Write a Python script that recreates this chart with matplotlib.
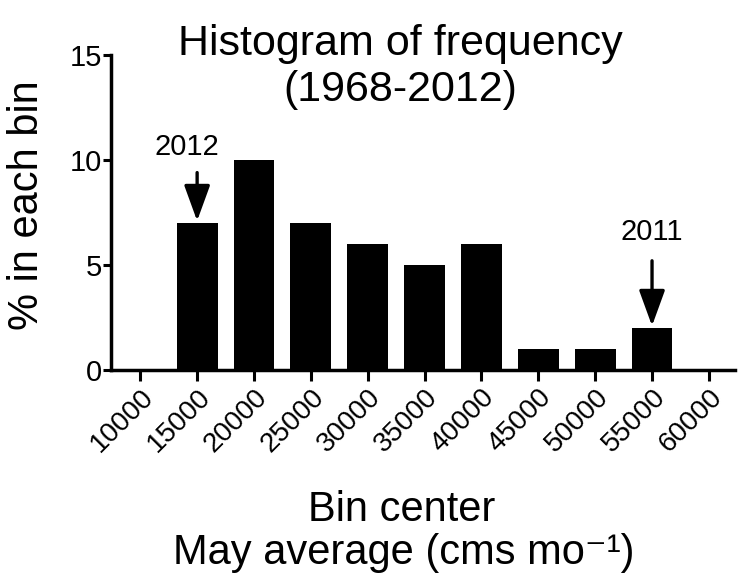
import matplotlib.pyplot as plt

plt.rcParams['font.family'] = ['Liberation Sans', 'DejaVu Sans']

# Histogram values
bin_centers = [15000, 20000, 25000, 30000, 35000, 40000, 45000, 50000, 55000]
percent = [7, 10, 7, 6, 5, 6, 1, 1, 2]
x_ticks = [10000, 15000, 20000, 25000, 30000, 35000, 40000, 45000, 50000, 55000, 60000]
y_ticks = [0, 5, 10, 15]

fig = plt.figure(figsize=(7.38, 5.79), dpi=100)
ax = fig.add_axes([0.150, 0.361, 0.846, 0.544])

ax.bar(bin_centers, percent, width=3600, color='black')

ax.set_xlim(7400, 62300)
ax.set_ylim(0, 15)
ax.set_xticks(x_ticks)
ax.set_xticklabels([str(t) for t in x_ticks], rotation=45, ha='right',
                   rotation_mode='anchor', fontsize=20)
ax.set_yticks(y_ticks)
ax.tick_params(axis='y', labelsize=21, width=2.2, length=6, pad=0)
ax.tick_params(axis='x', width=2.2, length=8, pad=2)

for s in ['top', 'right']:
    ax.spines[s].set_visible(False)
for s in ['left', 'bottom']:
    ax.spines[s].set_linewidth(2.5)

fig.text(27 / 738, 1 - 205 / 579, '% in each bin', rotation=90, ha='center',
         va='center', fontsize=30)

# Annotations
arrow = dict(arrowstyle='-|>,head_length=0.55,head_width=0.2', lw=2.4,
             color='black', mutation_scale=40, shrinkA=0, shrinkB=0)
ax.text(14100, 10.6, '2012', ha='center', va='center', fontsize=21)
ax.annotate('', xy=(15000, 7.1), xytext=(15000, 9.4), arrowprops=arrow)
ax.text(55000, 6.55, '2011', ha='center', va='center', fontsize=21)
ax.annotate('', xy=(55000, 2.1), xytext=(55000, 5.2), arrowprops=arrow)

fig.text(400 / 738, 1 - 44 / 579, 'Histogram of frequency', ha='center',
         va='center', fontsize=31)
fig.text(400 / 738, 1 - 90 / 579, '(1968-2012)', ha='center', va='center',
         fontsize=31)
fig.text(402 / 738, 1 - 510 / 579, 'Bin center', ha='center', va='center',
         fontsize=30)
fig.text(404 / 738, 1 - 553 / 579, 'May average (cms mo\u207b\u00b9)', ha='center',
         va='center', fontsize=30)

fig.savefig('out.png', dpi=100)
